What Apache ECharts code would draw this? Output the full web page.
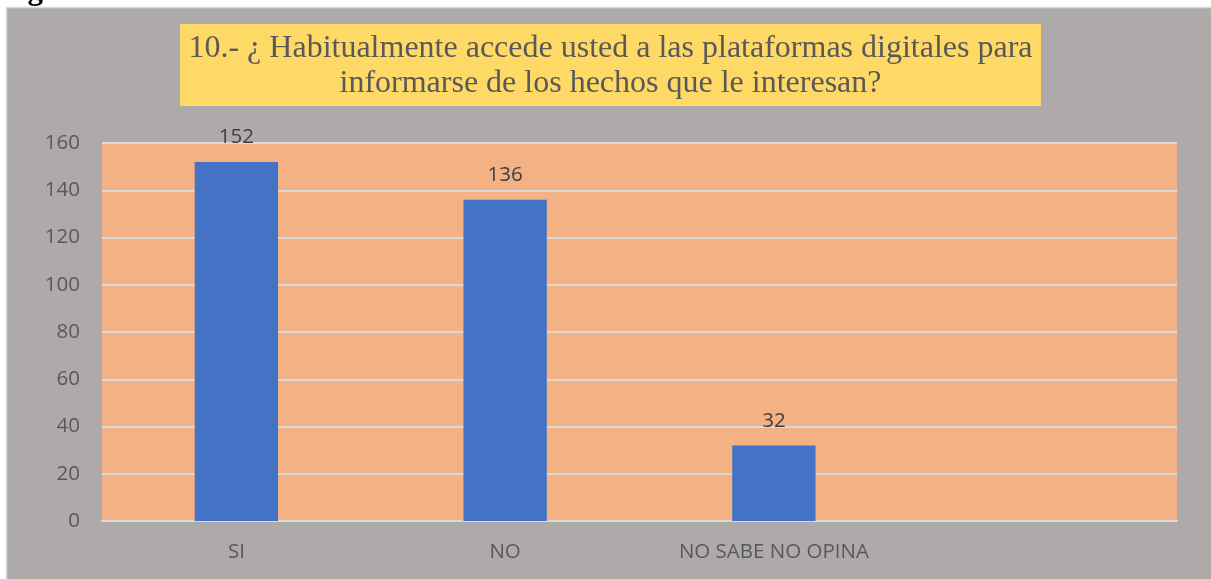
<!DOCTYPE html>
<html>
<head>
<meta charset="utf-8">
<script src="https://cdn.jsdelivr.net/npm/echarts@6/dist/echarts.min.js"></script>
<style>
  html, body { margin: 0; padding: 0; background: #fff; }
  #chart { width: 1211px; height: 579px; }
</style>
</head>
<body>
<div id="chart"></div>
<script>
var categories = ['SI', 'NO', 'NO SABE NO OPINA', ''];
var values = [152, 136, 32, '-'];
var yTicks = { min: 0, max: 160, interval: 20 };
var titleLines = [
  '10.- ¿ Habitualmente accede usted a las plataformas digitales para',
  'informarse de los hechos que le interesan?'
];

var chart = echarts.init(document.getElementById('chart'));

var option = {
  backgroundColor: '#ffffff',
  animation: false,
  graphic: [
    {
      type: 'rect',
      z: -10,
      shape: { x: 6.5, y: 7.5, width: 1210, height: 580 },
      style: { fill: '#aeaaa9', stroke: '#d9d9d9', lineWidth: 1.5 }
    },
    {
      type: 'text',
      x: 0,
      y: 6,
      style: {
        text: 'Figura 10',
        font: 'bold 31px "Liberation Serif"',
        fill: '#000000',
        verticalAlign: 'bottom'
      }
    },
    {
      type: 'rect',
      z: -5,
      shape: { x: 180, y: 24, width: 861, height: 82 },
      style: { fill: '#ffd966' }
    },
    {
      type: 'text',
      x: 610.5,
      y: 31,
      style: {
        text: titleLines.join('\n'),
        font: '32px "Liberation Serif"',
        lineHeight: 35,
        fill: '#595959',
        align: 'center',
        verticalAlign: 'top'
      }
    }
  ],
  grid: {
    left: 102,
    right: 34,
    top: 143,
    bottom: 58,
    show: true,
    backgroundColor: '#f4b183',
    borderWidth: 0
  },
  xAxis: {
    type: 'category',
    data: categories,
    axisTick: { show: false },
    axisLine: { lineStyle: { color: '#d9d9d9', width: 2 } },
    axisLabel: {
      color: '#595959',
      fontFamily: 'Open Sans',
      fontSize: 20.5,
      margin: 21
    }
  },
  yAxis: {
    type: 'value',
    min: yTicks.min,
    max: yTicks.max,
    interval: yTicks.interval,
    axisLine: { show: false },
    axisTick: { show: false },
    axisLabel: {
      color: '#595959',
      fontFamily: 'Open Sans',
      fontSize: 20.5,
      margin: 22
    },
    splitLine: { lineStyle: { color: '#d9d9d9', width: 2 } }
  },
  series: [{
    type: 'bar',
    data: values,
    barWidth: '31%',
    itemStyle: { color: '#4472c4' },
    label: {
      show: true,
      position: 'top',
      distance: 14,
      color: '#404040',
      fontFamily: 'Open Sans',
      fontSize: 20.5
    }
  }]
};

chart.setOption(option);
</script>
</body>
</html>
